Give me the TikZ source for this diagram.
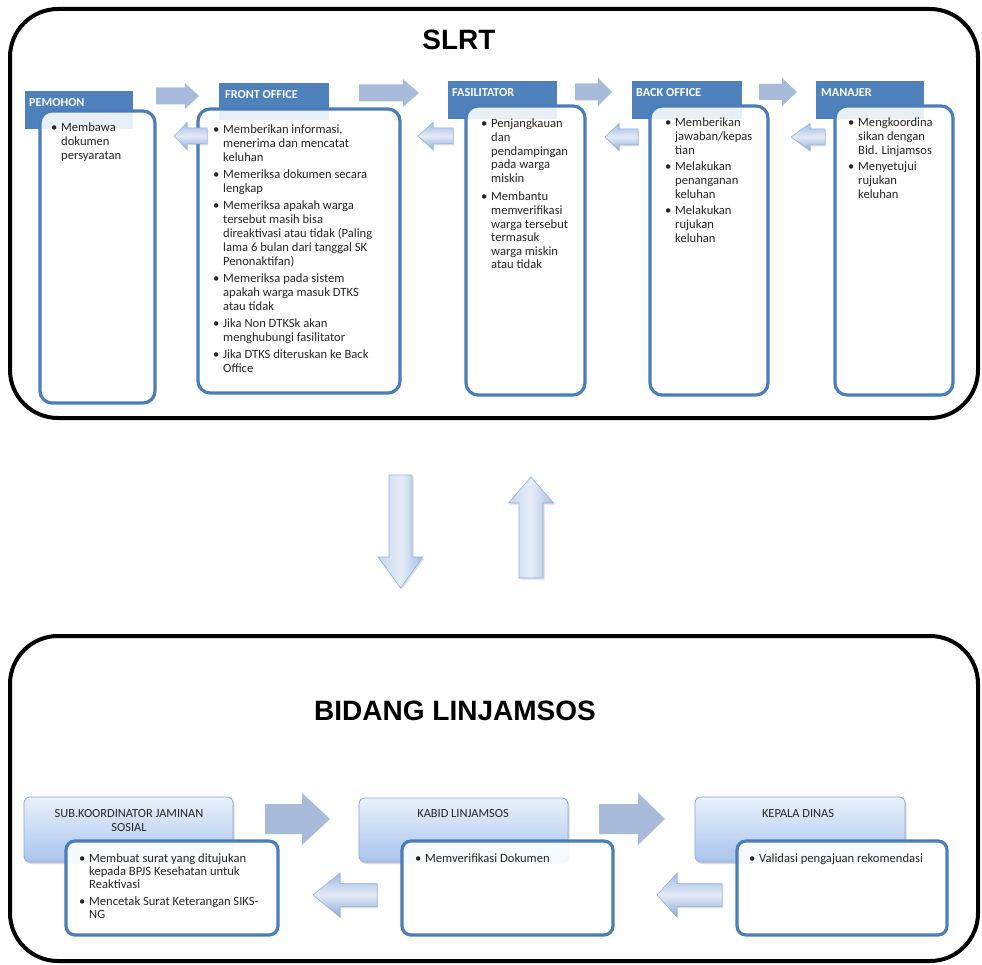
\documentclass[tikz,border=0pt]{standalone}
\usepackage{fontspec}
\setmainfont{Carlito}
\newfontfamily\titlefont{Liberation Sans}
\usetikzlibrary{shadows}
\definecolor{hblue}{HTML}{4F81BD}
\definecolor{bborder}{HTML}{4A7DBA}
\definecolor{rarr}{HTML}{A9BBDA}
\definecolor{larrT}{HTML}{9FBBE2}
\definecolor{larrM}{HTML}{E3EBF7}
\definecolor{larrB}{HTML}{8CACDA}
\definecolor{larrD}{HTML}{8EACD6}
\definecolor{hdrT}{HTML}{EAF1FB}
\definecolor{hdrB}{HTML}{A9C4EC}
\definecolor{hdrD}{HTML}{86A8DA}
\definecolor{vL}{HTML}{C6D6EE}
\definecolor{vM}{HTML}{E6EDF8}
\definecolor{vR}{HTML}{A6BEE2}
\definecolor{vD}{HTML}{93B1DA}
\definecolor{txtc}{HTML}{262626}
\newcommand\bl{\makebox[10pt][l]{\textbullet}}
\newcommand\blist[2][14]{{\fontsize{12.6}{#1}\selectfont\begin{tabular}[t]{@{}l@{}l@{}}#2\end{tabular}}}
\newcommand\boxat[6]{\node[#6, minimum width={(#4-#2)*1pt}, minimum height={(#5-#3)*1pt}] (#1) at ({(#2+#4)/2},{(#3+#5)/2}) {};}
% style, tail x, tip x, head-base x, centre y, shaft half, head half
\newcommand\RArr[7]{\path[#1] (#2,{#5-#6}) -- (#4,{#5-#6}) -- (#4,{#5-#7}) -- (#3,#5) -- (#4,{#5+#7}) -- (#4,{#5+#6}) -- (#2,{#5+#6}) -- cycle;}
% style, tail y, tip y, head-base y, centre x, shaft half, head half
\newcommand\VArr[7]{\path[#1] ({#5-#6},#2) -- ({#5-#6},#4) -- ({#5-#7},#4) -- (#5,#3) -- ({#5+#7},#4) -- ({#5+#6},#4) -- ({#5+#6},#2) -- cycle;}
\begin{document}
\begin{tikzpicture}[x=1pt,y=-1pt,
  outer/.style={draw=black, line width=4pt, rounded corners=48pt, inner sep=0pt, outer sep=0pt},
  tophdr/.style={fill=hblue, draw=none, inner sep=0pt},
  topbody/.style={draw=bborder, line width=3.2pt, rounded corners=12pt, fill=white, fill opacity=.88, inner sep=0pt},
  bothdr/.style={draw=hdrD, line width=.8pt, rounded corners=6pt, top color=hdrT, bottom color=hdrB, inner sep=0pt,
     drop shadow={shadow xshift=1.5pt, shadow yshift=-2pt, opacity=.3}},
  botbody/.style={draw=bborder, line width=3.2pt, rounded corners=9pt, fill=white, fill opacity=.9, inner sep=0pt},
  rarrow/.style={fill=rarr, draw=none},
  larrow/.style={top color=larrT, bottom color=larrB, middle color=larrM, draw=larrD, line width=.5pt,
     drop shadow={shadow xshift=1pt, shadow yshift=-1.5pt, opacity=.25}},
  varrow/.style={left color=vL, right color=vR, middle color=vM, draw=vD, line width=.6pt,
     drop shadow={shadow xshift=1.5pt, shadow yshift=-1.5pt, opacity=.25}},
  hdrlabel/.style={text=white, font=\fontsize{12.2}{14}\selectfont\bfseries, inner sep=0pt},
  bhlabel/.style={text=txtc, font=\fontsize{12.4}{14}\selectfont, inner sep=0pt},
  txt/.style={text=txtc, inner sep=0pt, text opacity=1},
  titlelabel/.style={font=\titlefont\bfseries\fontsize{28}{32}\selectfont, inner sep=0pt}
]
\useasboundingbox (0,0) rectangle (982,965);
% outer frames
\boxat{slrtbox}{10}{9}{978}{418}{outer}
\boxat{bidangbox}{10}{636}{978}{961}{outer}
\node[titlelabel, anchor=base] (slrtT) at (459,50) {SLRT};
\node[titlelabel, anchor=base] (bidT) at (455,720) {BIDANG LINJAMSOS};
% top headers
\boxat{pemH}{25}{91}{133}{129}{tophdr}
\boxat{froH}{219}{83}{329}{120}{tophdr}
\boxat{fasH}{448}{81}{557}{119}{tophdr}
\boxat{bacH}{632}{81}{742}{119}{tophdr}
\boxat{manH}{816}{81}{924}{119}{tophdr}
% top bodies
\boxat{pemB}{40}{111}{155}{403}{topbody}
\boxat{froB}{198}{109}{400}{393}{topbody}
\boxat{fasB}{466}{106}{585}{395}{topbody}
\boxat{bacB}{650}{106}{768}{395}{topbody}
\boxat{manB}{835}{106}{953}{395}{topbody}
% header labels
\node[hdrlabel, anchor=base west] (pemL) at (29,107) {PEMOHON};
\node[hdrlabel, anchor=base west] (froL) at (225,99) {FRONT OFFICE};
\node[hdrlabel, anchor=base west] (fasL) at (452,97) {FASILITATOR};
\node[hdrlabel, anchor=base west] (bacL) at (636,97) {BACK OFFICE};
\node[hdrlabel, anchor=base west] (manL) at (821,97) {MANAJER};
% top texts
\node[txt, anchor=base west] (pemT) at (51,132) {\blist{\bl & Membawa\\ & dokumen\\ & persyaratan}};
\node[txt, anchor=base west] (froT) at (213,134) {\blist{%
\bl & Memberikan informasi,\\ & menerima dan mencatat\\ & keluhan\\[3pt]
\bl & Memeriksa dokumen secara\\ & lengkap\\[3pt]
\bl & Memeriksa apakah warga\\ & tersebut masih bisa\\ & direaktivasi atau tidak (Paling\\ & lama 6 bulan dari tanggal SK\\ & Penonaktifan)\\[3pt]
\bl & Memeriksa pada sistem\\ & apakah warga masuk DTKS\\ & atau tidak\\[3pt]
\bl & Jika Non DTKSk akan\\ & menghubungi fasilitator\\[3pt]
\bl & Jika DTKS diteruskan ke Back\\ & Office}};
\node[txt, anchor=base west] (fasT) at (481,128) {\blist[13.6]{%
\bl & Penjangkauan\\ & dan\\ & pendampingan\\ & pada warga\\ & miskin\\[5pt]
\bl & Membantu\\ & memverifikasi\\ & warga tersebut\\ & termasuk\\ & warga miskin\\ & atau tidak}};
\node[txt, anchor=base west] (bacT) at (665,127) {\blist{%
\bl & Memberikan\\ & jawaban/kepas\\ & tian\\[2pt]
\bl & Melakukan\\ & penanganan\\ & keluhan\\[2pt]
\bl & Melakukan\\ & rujukan\\ & keluhan}};
\node[txt, anchor=base west] (manT) at (848,127) {\blist{%
\bl & Mengkoordina\\ & sikan dengan\\ & Bid. Linjamsos\\[2pt]
\bl & Menyetujui\\ & rujukan\\ & keluhan}};
% top arrows
\RArr{rarrow}{156}{199}{185}{96}{8.5}{13}
\RArr{rarrow}{359}{419}{403}{93}{8.5}{14}
\RArr{rarrow}{575}{612}{598}{92}{8.5}{14}
\RArr{rarrow}{759}{797}{782}{92}{8}{14}
\RArr{larrow}{207}{174}{187}{136}{8}{13.5}
\RArr{larrow}{453}{418}{433}{136}{8}{13.5}
\RArr{larrow}{638}{605}{619}{137}{8}{13.5}
\RArr{larrow}{825}{791}{810}{137}{8}{13.5}
% vertical arrows
\VArr{varrow}{475}{588}{557}{400.5}{11.5}{22.5}
\VArr{varrow}{578}{477}{503}{531}{12}{22.5}
% bottom headers
\boxat{subH}{24}{797}{233}{862}{bothdr}
\boxat{kabH}{359}{798}{568}{862}{bothdr}
\boxat{kepH}{695}{797}{905}{862}{bothdr}
\node[bhlabel, anchor=base] (subL) at (129,817) {\begin{tabular}[t]{@{}c@{}}SUB.KOORDINATOR JAMINAN\\SOSIAL\end{tabular}};
\node[bhlabel, anchor=base] (kabL) at (463,817) {KABID LINJAMSOS};
\node[bhlabel, anchor=base] (kepL) at (798,817) {KEPALA DINAS};
% bottom bodies
\boxat{subB}{66}{841}{278}{935}{botbody}
\boxat{kabB}{402}{841}{613}{935}{botbody}
\boxat{kepB}{737}{841}{947}{935}{botbody}
\node[txt, anchor=base west] (subT) at (79,862) {\blist[13.3]{%
\bl & Membuat surat yang ditujukan\\ & kepada BPJS Kesehatan untuk\\ & Reaktivasi\\[3.5pt]
\bl & Mencetak Surat Keterangan SIKS-\\ & NG}};
\node[txt, anchor=base west] (kabT) at (415,862) {\blist{\bl & Memverifikasi Dokumen}};
\node[txt, anchor=base west] (kepT) at (749,862) {\blist{\bl & Validasi pengajuan rekomendasi}};
% bottom arrows
\RArr{rarrow}{265}{330}{302}{819}{15}{26}
\RArr{rarrow}{599}{665}{638}{819}{15}{26}
\RArr{larrow}{377}{313}{340}{895}{11.5}{22}
\RArr{larrow}{722}{657}{677}{895}{11.5}{22}
\end{tikzpicture}
\end{document}
